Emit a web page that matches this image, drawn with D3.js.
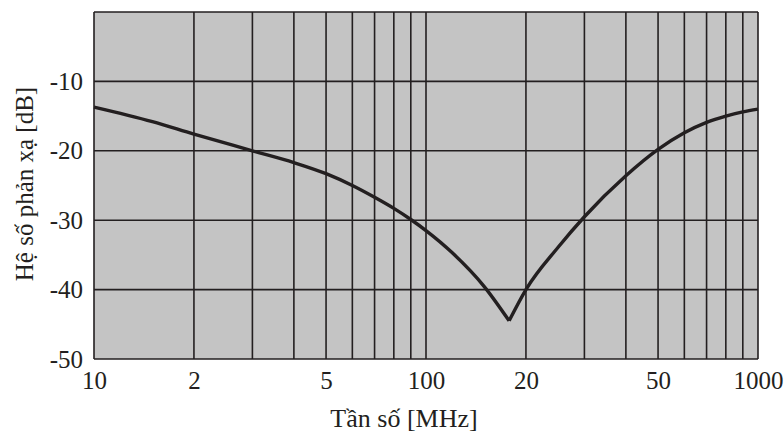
<!DOCTYPE html>
<html>
<head>
<meta charset="utf-8">
<script src="https://cdn.jsdelivr.net/npm/d3@7"></script>
<style>
  body { margin: 0; background: #fff; }
  svg text { font-family: "Liberation Serif", "DejaVu Serif", serif; fill: #231f20; }
</style>
</head>
<body>
<svg id="chart" width="784" height="435"></svg>
<script>
// frequency [MHz] and reflection coefficient [dB]
const freq = [10, 15, 20, 30, 40, 50, 60, 70, 80, 90, 100, 120, 150, 178,
              200, 250, 300, 400, 500, 600, 700, 800, 900, 1000];
const gamma = [-13.7, -15.8, -17.6, -20.0, -21.7, -23.3, -25.0, -26.7, -28.3, -29.9, -31.5, -34.7, -39.6, -44.5,
               -40.0, -33.9, -29.5, -23.6, -19.8, -17.4, -15.9, -15.0, -14.4, -14.0];

// x tick values and the labels printed under them (as in the original)
const xTickValues = [10, 20, 50, 100, 200, 500, 1000];
const xTickLabels = ["10", "2", "5", "100", "20", "50", "1000"];
const yTickValues = [-10, -20, -30, -40, -50];
const xGridValues = [10, 20, 30, 40, 50, 60, 70, 80, 90, 100, 200, 300, 400, 500, 600, 700, 800, 900, 1000];
const yGridValues = [0, -10, -20, -30, -40, -50];

const ink = "#231f20";
const margin = { top: 12, right: 26, bottom: 76, left: 94 };
const width = 784 - margin.left - margin.right;
const height = 435 - margin.top - margin.bottom;

const svg = d3.select("#chart");
const g = svg.append("g").attr("transform", `translate(${margin.left},${margin.top})`);

const x = d3.scaleLog().domain([10, 1000]).range([0, width]);
const y = d3.scaleLinear().domain([-50, 0]).range([height, 0]);

// plot background
g.append("rect")
  .attr("width", width)
  .attr("height", height)
  .attr("fill", "#c4c4c4");

// grid lines
g.append("g")
  .selectAll("line")
  .data(xGridValues)
  .join("line")
  .attr("x1", d => x(d)).attr("x2", d => x(d))
  .attr("y1", 0).attr("y2", height)
  .attr("stroke", ink).attr("stroke-width", 1.6);

g.append("g")
  .selectAll("line")
  .data(yGridValues)
  .join("line")
  .attr("x1", 0).attr("x2", width)
  .attr("y1", d => y(d)).attr("y2", d => y(d))
  .attr("stroke", ink).attr("stroke-width", 1.6);

// axes (labels only, the grid draws the lines)
const xAxis = g.append("g")
  .attr("transform", `translate(0,${height})`)
  .call(d3.axisBottom(x)
    .tickValues(xTickValues)
    .tickFormat((d, i) => xTickLabels[i])
    .tickSize(0));
xAxis.select(".domain").remove();
xAxis.selectAll("text")
  .attr("y", 30)
  .attr("dy", 0)
  .attr("font-size", 25)
  .attr("fill", ink);

const yAxis = g.append("g")
  .call(d3.axisLeft(y)
    .tickValues(yTickValues)
    .tickFormat(d => String(d))
    .tickSize(0)
    .tickPadding(11));
yAxis.select(".domain").remove();
yAxis.selectAll("text").attr("font-size", 25).attr("fill", ink);

// the curve: two monotone branches meeting at the sharp minimum
const points = freq.map((f, i) => ({ f, v: gamma[i] }));
const iMin = d3.minIndex(gamma);
const line = d3.line()
  .x(d => x(d.f))
  .y(d => y(d.v))
  .curve(d3.curveMonotoneX);

[points.slice(0, iMin + 1), points.slice(iMin)].forEach(branch => {
  g.append("path")
    .datum(branch)
    .attr("fill", "none")
    .attr("stroke", ink)
    .attr("stroke-width", 3.4)
    .attr("stroke-linejoin", "miter")
    .attr("d", line);
});

// axis titles
svg.append("text")
  .attr("x", 404)
  .attr("y", 427)
  .attr("text-anchor", "middle")
  .attr("font-size", 26)
  .text("Tần số [MHz]");

svg.append("text")
  .attr("transform", "translate(33,184) rotate(-90)")
  .attr("text-anchor", "middle")
  .attr("font-size", 25)
  .text("Hệ số phản xạ [dB]");
</script>
</body>
</html>
